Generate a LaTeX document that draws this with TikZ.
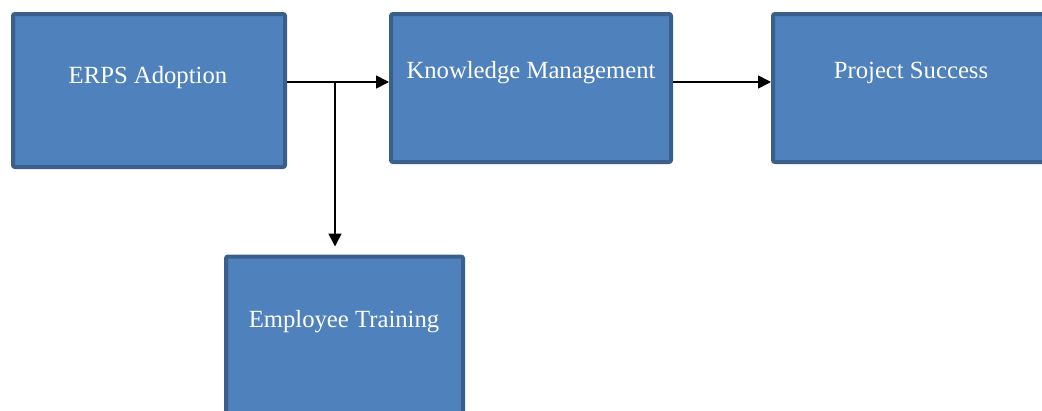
\documentclass[tikz,border=0pt]{standalone}
\usepackage{fontspec}
\setmainfont{Liberation Serif}
\usetikzlibrary{arrows.meta}
\definecolor{boxfill}{HTML}{4F81BD}
\definecolor{boxline}{HTML}{3A5F8D}
\begin{document}
\begin{tikzpicture}[x=1pt,y=-1pt,
  box/.style={draw=boxline,fill=boxfill,line width=4pt,rounded corners=2pt,inner sep=0pt},
  lbl/.style={anchor=base,text=white,inner sep=0pt,font=\fontsize{24.7}{28}\selectfont},
  conn/.style={line width=1.6pt,draw=black},
  arr/.style={conn,-{Triangle[length=13pt,width=13pt]}}]
\useasboundingbox (0,0) rectangle (1042,410);
\node[box,minimum width=272pt,minimum height=153pt] (erps) at (149,90.5) {};
\node[box,minimum width=280pt,minimum height=148pt] (km) at (531,88) {};
\node[box,minimum width=275pt,minimum height=148pt] (ps) at (910.5,88) {};
\node[box,minimum width=237pt,minimum height=159pt] (et) at (344.5,336) {};
\node[lbl] (erpst) at (148,83) {ERPS Adoption};
\node[lbl] (kmt) at (531,78) {Knowledge Management};
\node[lbl] (pst) at (911,78) {Project Success};
\node[lbl] (ett) at (344,327) {Employee Training};
\coordinate (j) at (335,82);
\draw[conn] (erps.east |- j) -- (j);
\draw[arr] (j) -- (km.west |- j);
\draw[arr,shorten >=8pt] (j) -- (j |- et.north);
\draw[arr] (km.east |- j) -- (ps.west |- j);
\end{tikzpicture}
\end{document}
